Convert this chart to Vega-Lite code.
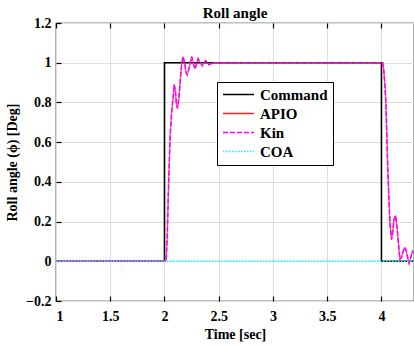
{
  "$schema": "https://vega.github.io/schema/vega-lite/v6.json",
  "width": 358,
  "height": 278,
  "autosize": {"type": "none"},
  "padding": {"left": 56, "top": 23, "right": 0, "bottom": 44},
  "background": "white",
  "title": {"text": "Roll angle", "font": "Liberation Serif", "fontSize": 15, "fontWeight": "bold", "color": "black", "offset": -5},
  "config": {
    "view": {"stroke": "black", "strokeWidth": 1.2},
    "axis": {
      "labelFont": "Liberation Serif", "labelFontSize": 14, "labelFontWeight": "bold", "labelColor": "black",
      "titleFont": "Liberation Serif", "titleFontSize": 14, "titleFontWeight": "bold", "titleColor": "black",
      "gridColor": "#dedede", "gridWidth": 1, "domain": false,
      "tickColor": "black", "tickSize": -5, "tickWidth": 1.2
    },
    "legend": {
      "orient": "none", "legendX": 161, "legendY": 59,
      "strokeColor": "black", "fillColor": "white", "padding": 5,
      "labelFont": "Liberation Serif", "labelFontSize": 15, "labelFontWeight": "bold", "labelColor": "black",
      "symbolType": "stroke", "symbolSize": 961, "symbolStrokeWidth": 1.5,
      "clipHeight": 15, "rowPadding": 3, "labelOffset": 5
    }
  },
  "datasets": {
    "signals": [
      {"s": "Command", "i": 0, "t": 1, "v": 0},
      {"s": "Command", "i": 1, "t": 2, "v": 0},
      {"s": "Command", "i": 2, "t": 2, "v": 1},
      {"s": "Command", "i": 3, "t": 4, "v": 1},
      {"s": "Command", "i": 4, "t": 4, "v": 0},
      {"s": "Command", "i": 5, "t": 4.3, "v": 0},

      {"s": "APIO", "t": 1, "v": 0},
      {"s": "APIO", "t": 2.015, "v": 0},
      {"s": "APIO", "t": 2.025, "v": 0.12},
      {"s": "APIO", "t": 2.038, "v": 0.39},
      {"s": "APIO", "t": 2.053, "v": 0.64},
      {"s": "APIO", "t": 2.065, "v": 0.74},
      {"s": "APIO", "t": 2.075, "v": 0.8},
      {"s": "APIO", "t": 2.09, "v": 0.89},
      {"s": "APIO", "t": 2.1, "v": 0.86},
      {"s": "APIO", "t": 2.11, "v": 0.79},
      {"s": "APIO", "t": 2.12, "v": 0.77},
      {"s": "APIO", "t": 2.133, "v": 0.82},
      {"s": "APIO", "t": 2.145, "v": 0.91},
      {"s": "APIO", "t": 2.158, "v": 0.99},
      {"s": "APIO", "t": 2.17, "v": 1.03},
      {"s": "APIO", "t": 2.185, "v": 1.0},
      {"s": "APIO", "t": 2.2, "v": 0.95},
      {"s": "APIO", "t": 2.21, "v": 0.94},
      {"s": "APIO", "t": 2.23, "v": 0.98},
      {"s": "APIO", "t": 2.25, "v": 1.03},
      {"s": "APIO", "t": 2.265, "v": 1.0},
      {"s": "APIO", "t": 2.28, "v": 0.97},
      {"s": "APIO", "t": 2.295, "v": 0.99},
      {"s": "APIO", "t": 2.31, "v": 1.02},
      {"s": "APIO", "t": 2.33, "v": 1.0},
      {"s": "APIO", "t": 2.35, "v": 0.985},
      {"s": "APIO", "t": 2.365, "v": 1.0},
      {"s": "APIO", "t": 2.38, "v": 1.01},
      {"s": "APIO", "t": 2.41, "v": 0.99},
      {"s": "APIO", "t": 2.45, "v": 1.0},
      {"s": "APIO", "t": 2.5, "v": 1.0},
      {"s": "APIO", "t": 4.012, "v": 1.0},
      {"s": "APIO", "t": 4.02, "v": 0.97},
      {"s": "APIO", "t": 4.03, "v": 0.9},
      {"s": "APIO", "t": 4.04, "v": 0.81},
      {"s": "APIO", "t": 4.05, "v": 0.62},
      {"s": "APIO", "t": 4.06, "v": 0.44},
      {"s": "APIO", "t": 4.07, "v": 0.3},
      {"s": "APIO", "t": 4.08, "v": 0.18},
      {"s": "APIO", "t": 4.093, "v": 0.11},
      {"s": "APIO", "t": 4.105, "v": 0.15},
      {"s": "APIO", "t": 4.115, "v": 0.21},
      {"s": "APIO", "t": 4.13, "v": 0.23},
      {"s": "APIO", "t": 4.145, "v": 0.16},
      {"s": "APIO", "t": 4.16, "v": 0.07},
      {"s": "APIO", "t": 4.17, "v": 0.01},
      {"s": "APIO", "t": 4.185, "v": 0.02},
      {"s": "APIO", "t": 4.2, "v": 0.05},
      {"s": "APIO", "t": 4.215, "v": 0.07},
      {"s": "APIO", "t": 4.23, "v": 0.05},
      {"s": "APIO", "t": 4.245, "v": 0.01},
      {"s": "APIO", "t": 4.255, "v": -0.01},
      {"s": "APIO", "t": 4.27, "v": 0.02},
      {"s": "APIO", "t": 4.285, "v": 0.05},
      {"s": "APIO", "t": 4.3, "v": 0.04},

      {"s": "Kin", "t": 1, "v": 0},
      {"s": "Kin", "t": 2.015, "v": 0},
      {"s": "Kin", "t": 2.025, "v": 0.12},
      {"s": "Kin", "t": 2.038, "v": 0.39},
      {"s": "Kin", "t": 2.053, "v": 0.64},
      {"s": "Kin", "t": 2.065, "v": 0.74},
      {"s": "Kin", "t": 2.075, "v": 0.8},
      {"s": "Kin", "t": 2.09, "v": 0.89},
      {"s": "Kin", "t": 2.1, "v": 0.86},
      {"s": "Kin", "t": 2.11, "v": 0.79},
      {"s": "Kin", "t": 2.12, "v": 0.77},
      {"s": "Kin", "t": 2.133, "v": 0.82},
      {"s": "Kin", "t": 2.145, "v": 0.91},
      {"s": "Kin", "t": 2.158, "v": 0.99},
      {"s": "Kin", "t": 2.17, "v": 1.03},
      {"s": "Kin", "t": 2.185, "v": 1.0},
      {"s": "Kin", "t": 2.2, "v": 0.95},
      {"s": "Kin", "t": 2.21, "v": 0.94},
      {"s": "Kin", "t": 2.23, "v": 0.98},
      {"s": "Kin", "t": 2.25, "v": 1.03},
      {"s": "Kin", "t": 2.265, "v": 1.0},
      {"s": "Kin", "t": 2.28, "v": 0.97},
      {"s": "Kin", "t": 2.295, "v": 0.99},
      {"s": "Kin", "t": 2.31, "v": 1.02},
      {"s": "Kin", "t": 2.33, "v": 1.0},
      {"s": "Kin", "t": 2.35, "v": 0.985},
      {"s": "Kin", "t": 2.365, "v": 1.0},
      {"s": "Kin", "t": 2.38, "v": 1.01},
      {"s": "Kin", "t": 2.41, "v": 0.99},
      {"s": "Kin", "t": 2.45, "v": 1.0},
      {"s": "Kin", "t": 2.5, "v": 1.0},
      {"s": "Kin", "t": 4.012, "v": 1.0},
      {"s": "Kin", "t": 4.02, "v": 0.97},
      {"s": "Kin", "t": 4.03, "v": 0.9},
      {"s": "Kin", "t": 4.04, "v": 0.81},
      {"s": "Kin", "t": 4.05, "v": 0.62},
      {"s": "Kin", "t": 4.06, "v": 0.44},
      {"s": "Kin", "t": 4.07, "v": 0.3},
      {"s": "Kin", "t": 4.08, "v": 0.18},
      {"s": "Kin", "t": 4.093, "v": 0.11},
      {"s": "Kin", "t": 4.105, "v": 0.15},
      {"s": "Kin", "t": 4.115, "v": 0.21},
      {"s": "Kin", "t": 4.13, "v": 0.23},
      {"s": "Kin", "t": 4.145, "v": 0.16},
      {"s": "Kin", "t": 4.16, "v": 0.07},
      {"s": "Kin", "t": 4.17, "v": 0.01},
      {"s": "Kin", "t": 4.185, "v": 0.02},
      {"s": "Kin", "t": 4.2, "v": 0.05},
      {"s": "Kin", "t": 4.215, "v": 0.07},
      {"s": "Kin", "t": 4.23, "v": 0.05},
      {"s": "Kin", "t": 4.245, "v": 0.01},
      {"s": "Kin", "t": 4.255, "v": -0.01},
      {"s": "Kin", "t": 4.27, "v": 0.02},
      {"s": "Kin", "t": 4.285, "v": 0.05},
      {"s": "Kin", "t": 4.3, "v": 0.04},

      {"s": "COA", "t": 1, "v": 0},
      {"s": "COA", "t": 4.3, "v": 0}
    ]
  },
  "data": {"name": "signals"},
  "encoding": {
    "y": {
      "field": "v", "type": "quantitative",
      "scale": {"domain": [-0.2, 1.2], "nice": false, "zero": false},
      "axis": {"values": [-0.2, 0, 0.2, 0.4, 0.6, 0.8, 1, 1.2], "format": "~g", "title": "Roll angle (ϕ) [Deg]", "labelPadding": 10, "titlePadding": 6}
    },
    "color": {
      "field": "s", "type": "nominal",
      "scale": {"domain": ["Command", "APIO", "Kin", "COA"], "range": ["#000000", "#ff2020", "#ff00ff", "#00ffff"]},
      "legend": {"title": null}
    },
    "strokeDash": {
      "field": "s", "type": "nominal",
      "scale": {"domain": ["Command", "APIO", "Kin", "COA"], "range": [[1, 0], [1, 0], [5, 2], [1.5, 1.5]]},
      "legend": {"title": null}
    }
  },
  "layer": [
    {
      "transform": [{"filter": "datum.s == 'Command'"}],
      "mark": {"type": "line", "strokeWidth": 1.6, "clip": true},
      "encoding": {
        "x": {
          "field": "t", "type": "quantitative",
          "scale": {"domain": [1, 4.3], "nice": false, "zero": false},
          "axis": {"orient": "bottom", "values": [1, 1.5, 2, 2.5, 3, 3.5, 4], "format": "~g", "title": "Time [sec]", "labelPadding": 13, "titlePadding": 4}
        },
        "order": {"field": "i", "type": "quantitative"}
      }
    },
    {
      "transform": [{"filter": "datum.s == 'APIO'"}],
      "mark": {"type": "line", "strokeWidth": 1, "clip": true},
      "encoding": {
        "x": {
          "field": "t", "type": "quantitative",
          "scale": {"domain": [1, 4.3], "nice": false, "zero": false},
          "axis": {"orient": "top", "values": [1, 1.5, 2, 2.5, 3, 3.5, 4], "labels": false, "grid": false, "title": null}
        }
      }
    },
    {
      "transform": [{"filter": "datum.s == 'Kin'"}],
      "mark": {"type": "line", "strokeWidth": 1.6, "clip": true},
      "encoding": {
        "x": {"field": "t", "type": "quantitative", "scale": {"domain": [1, 4.3], "nice": false, "zero": false}, "axis": null}
      }
    },
    {
      "transform": [{"filter": "datum.s == 'COA'"}],
      "mark": {"type": "line", "strokeWidth": 1.6, "clip": true},
      "encoding": {
        "x": {"field": "t", "type": "quantitative", "scale": {"domain": [1, 4.3], "nice": false, "zero": false}, "axis": null}
      }
    }
  ],
  "resolve": {"axis": {"x": "independent"}}
}
